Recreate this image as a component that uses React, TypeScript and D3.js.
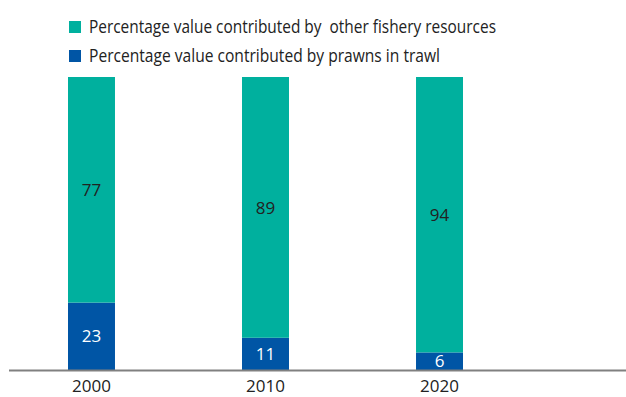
import React from "react";
import * as d3 from "d3";

const years = ["2000", "2010", "2020"];
const prawns = [23, 11, 6];
const other = [77, 89, 94];
const seriesNames = [
  "Percentage value contributed by  other fishery resources",
  "Percentage value contributed by prawns in trawl",
];
const TEAL = "#00b09e";
const BLUE = "#0055a5";

export default function App() {
  const W = 626, H = 397;
  const x = d3.scaleBand().domain(years).range([68, 463]).paddingInner(0.73).paddingOuter(0);
  const y = d3.scaleLinear().domain([0, 100]).range([370, 77]);
  const font = "'Open Sans', 'Noto Sans', sans-serif";
  const legendLens = [407, 351];
  return (
    <svg width={W} height={H} style={{ position: "absolute", left: 0, top: 0 }} fontFamily={font}>
      {years.map((yr, i) => {
        const x0 = x(yr)!;
        const bw = x.bandwidth();
        const p = prawns[i], o = other[i];
        return (
          <g key={yr}>
            <rect x={x0} y={y(p)} width={bw} height={y(0) - y(p)} fill={BLUE} />
            <rect x={x0} y={y(p + o)} width={bw} height={y(p) - y(p + o)} fill={TEAL} />
            <text x={x0 + bw / 2} y={(y(0) + y(p)) / 2} dy="0.36em" textAnchor="middle" fill="#fff" fontSize={17}>{p}</text>
            <text x={x0 + bw / 2} y={(y(p) + y(p + o)) / 2} dy="0.36em" textAnchor="middle" fill="#222" fontSize={17}>{o}</text>
            <text x={x0 + bw / 2} y={392} textAnchor="middle" fill="#222" fontSize={17}>{yr}</text>
          </g>
        );
      })}
      <line x1={9} x2={626} y1={y(0) + 0.5} y2={y(0) + 0.5} stroke="#808080" strokeWidth={2} />
      {seriesNames.map((s, i) => (
        <g key={s} transform={`translate(69, ${21 + i * 29})`}>
          <rect width={12} height={12} fill={i === 0 ? TEAL : BLUE} />
          <text x={20} y={6} dy="0.36em" fill="#222" fontSize={17.5} style={{ whiteSpace: "pre" }}
            textLength={legendLens[i]} lengthAdjust="spacingAndGlyphs">{s}</text>
        </g>
      ))}
    </svg>
  );
}
